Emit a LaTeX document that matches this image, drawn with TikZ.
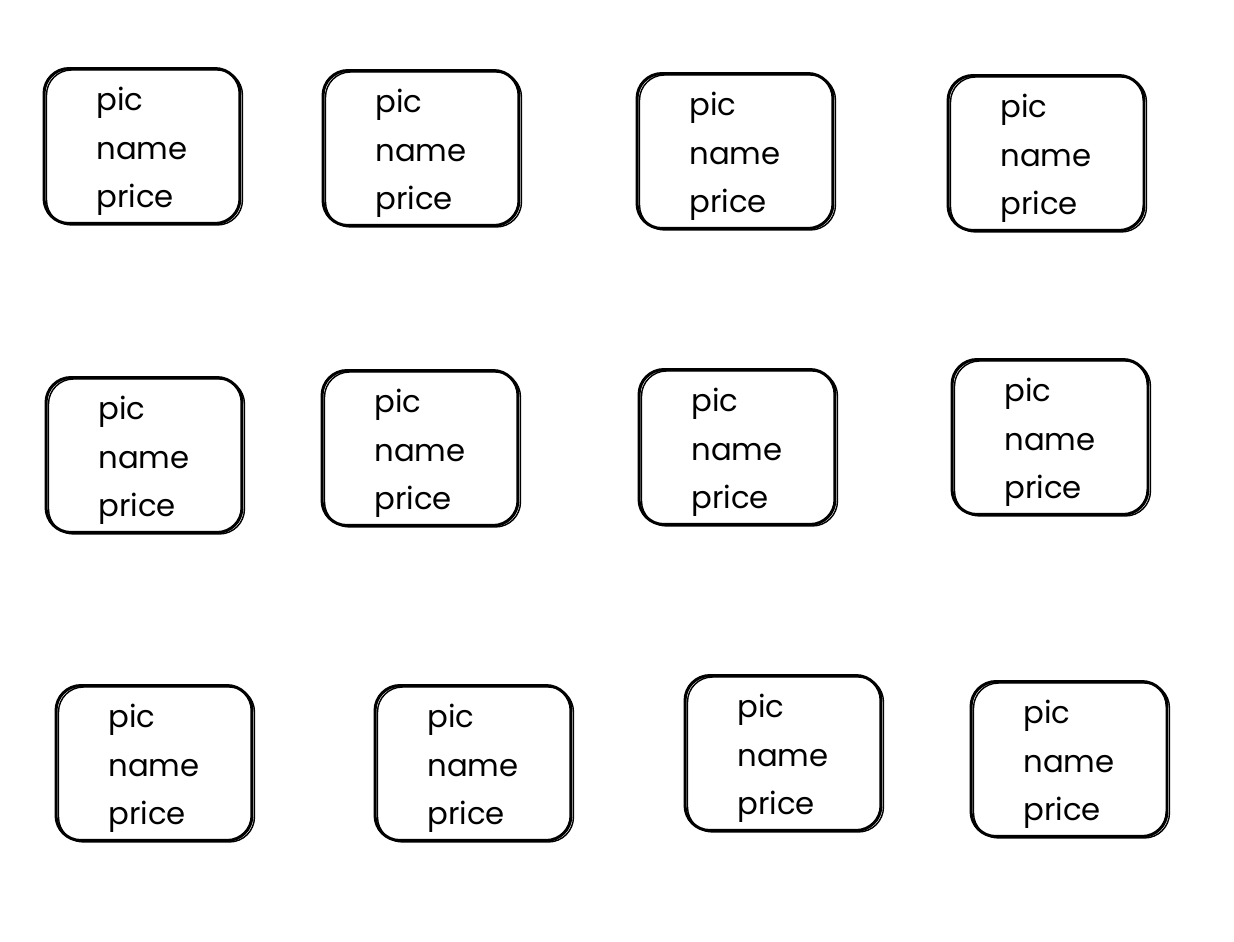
\documentclass[tikz,border=0pt]{standalone}
\usepackage{fontspec}
\setmainfont{Poppins}
\usepackage{tikz}

\begin{document}
\begin{tikzpicture}[
    x=0.02cm, y=-0.02cm,
    card/.style={draw, line width=1.7pt, rounded corners=0.5cm, minimum width=3.92cm, minimum height=3.1cm, align=left,
        font=\fontsize{17.5}{27.6}\selectfont, text height=75pt,
        postaction={draw, line width=0.8pt, transform canvas={shift={(0.05cm,-0.03cm)}}}}
]
\useasboundingbox (0,0) rectangle (1234,942);

% First row
\node[card] (c1) at (142,146) {pic\\name\\price};
\node[card] (c2) at (421,148) {pic\\name\\price};
\node[card] (c3) at (735,151) {pic\\name\\price};
\node[card] (c4) at (1046,153) {pic\\name\\price};

% Second row
\node[card] (c5) at (144,455) {pic\\name\\price};
\node[card] (c6) at (420,448) {pic\\name\\price};
\node[card] (c7) at (737,447) {pic\\name\\price};
\node[card] (c8) at (1050,437) {pic\\name\\price};

% Third row
\node[card] (c9) at (154,763) {pic\\name\\price};
\node[card] (c10) at (473,763) {pic\\name\\price};
\node[card] (c11) at (783,753) {pic\\name\\price};
\node[card] (c12) at (1069,759) {pic\\name\\price};
\end{tikzpicture}
\end{document}
